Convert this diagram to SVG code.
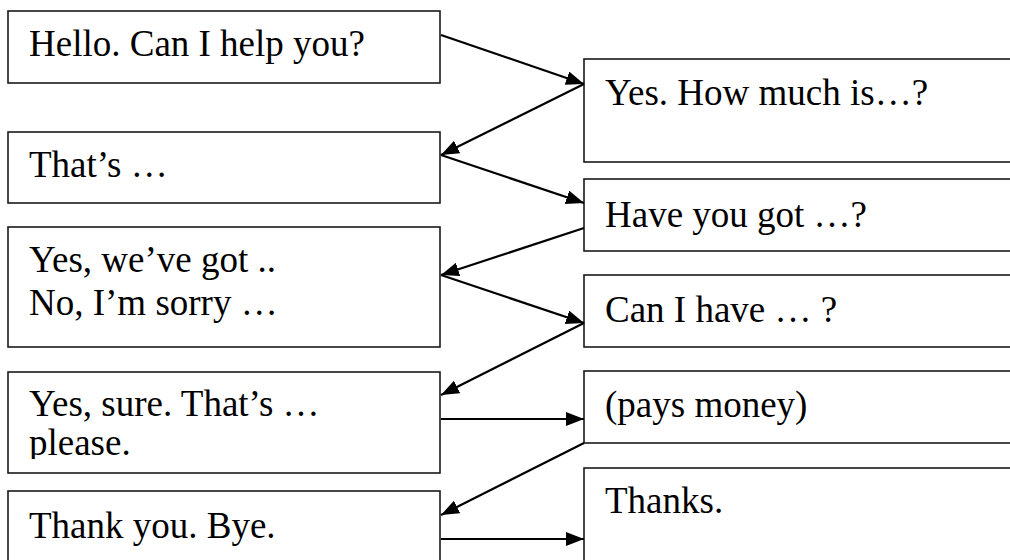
<svg xmlns="http://www.w3.org/2000/svg" width="1010" height="560" viewBox="0 0 1010 560">
<style>
.box{fill:#fff;stroke:#1a1a1a;stroke-width:1.6}
.t{font-family:"Liberation Serif","Times New Roman",serif;font-size:37px;fill:#000}
.c{stroke:#000;stroke-width:2.2;fill:none;marker-end:url(#ah)}
</style>
<defs>
<marker id="ah" markerUnits="userSpaceOnUse" markerWidth="20" markerHeight="16" refX="18" refY="7" orient="auto">
<path d="M0,0 L18,7 L0,14 z" fill="#000"/>
</marker>
<clipPath id="clip4"><rect x="8" y="372" width="432" height="87"/></clipPath>
</defs>
<rect width="1010" height="560" fill="#fff"/>
<g id="n1"><rect class="box" x="8" y="11" width="432" height="72"/><text class="t" x="29" y="56">Hello. Can I help you?</text></g>
<g id="n2"><rect class="box" x="8" y="132" width="432" height="71"/><text class="t" x="29" y="177">That’s …</text></g>
<g id="n3"><rect class="box" x="8" y="227" width="432" height="120"/><text class="t" x="29" y="272">Yes, we’ve got ..</text><text class="t" x="29" y="315">No, I’m sorry …</text></g>
<g id="n4"><rect class="box" x="8" y="372" width="432" height="101"/><g clip-path="url(#clip4)"><text class="t" x="29" y="416">Yes, sure. That’s …</text><text class="t" x="29" y="455">please.</text></g></g>
<g id="n5"><rect class="box" x="8" y="491" width="432" height="80"/><text class="t" x="29" y="538">Thank you. Bye.</text></g>
<g id="r1"><rect class="box" x="584" y="59" width="440" height="103"/><text class="t" x="605" y="105">Yes. How much is…?</text></g>
<g id="r2"><rect class="box" x="584" y="179" width="440" height="72"/><text class="t" x="605" y="227">Have you got …?</text></g>
<g id="r3"><rect class="box" x="584" y="275" width="440" height="72"/><text class="t" x="605" y="322">Can I have … ?</text></g>
<g id="r4"><rect class="box" x="584" y="371" width="440" height="72"/><text class="t" x="605" y="417">(pays money)</text></g>
<g id="r5"><rect class="box" x="584" y="468" width="440" height="103"/><text class="t" x="605" y="513">Thanks.</text></g>
<g id="connectors">
<line class="c" x1="441" y1="35" x2="584" y2="84"/>
<line class="c" x1="584" y1="84" x2="441" y2="155"/>
<line class="c" x1="441" y1="155" x2="584" y2="203"/>
<line class="c" x1="584" y1="228" x2="441" y2="275"/>
<line class="c" x1="441" y1="275" x2="584" y2="323"/>
<line class="c" x1="584" y1="323" x2="441" y2="395"/>
<line class="c" x1="441" y1="419" x2="584" y2="419"/>
<line class="c" x1="584" y1="443" x2="441" y2="515"/>
<line class="c" x1="441" y1="539" x2="584" y2="539"/>
</g>
</svg>
